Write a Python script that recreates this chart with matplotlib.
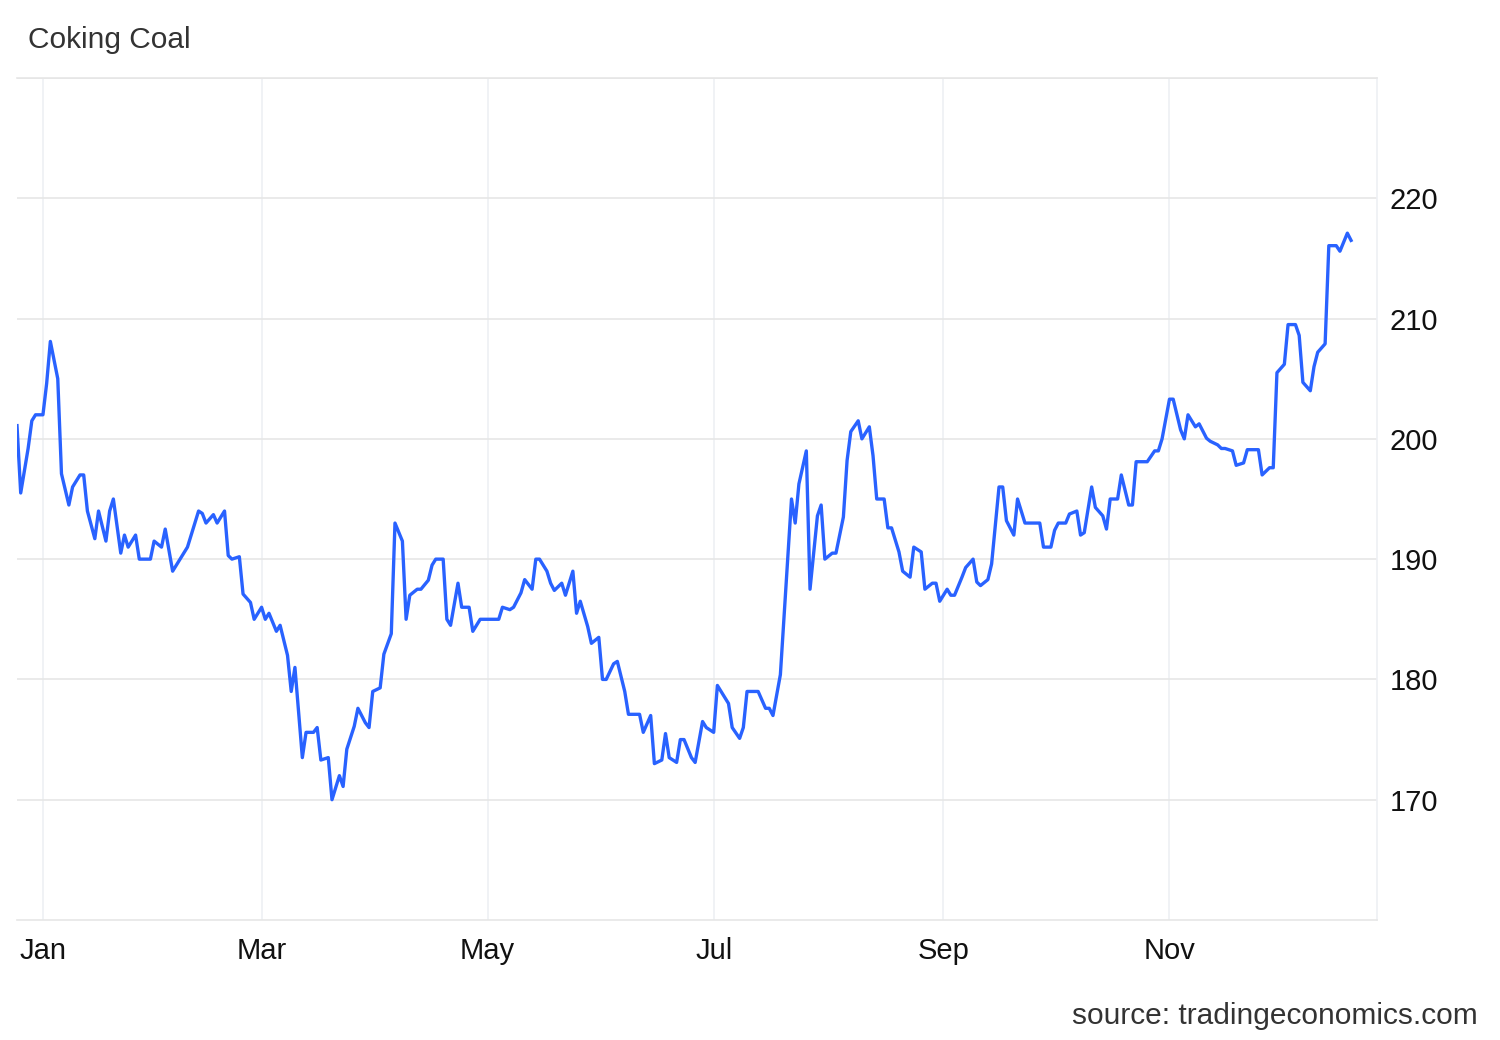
import numpy as np
import matplotlib
matplotlib.use("Agg")
import matplotlib.pyplot as plt

# days after 1 Jan 2025, price in USD/t
days = [-7, -6, -4, -3, -2, 0, 1, 2, 4, 5, 7, 8, 10, 11, 12, 14, 15, 17, 18, 19,
        21, 22, 23, 25, 26, 28, 29, 30, 32, 33, 35, 36, 37, 39, 40, 42, 43, 44, 46, 47,
        49, 50, 51, 53, 54, 56, 57, 59, 60, 61, 63, 64, 66, 67, 68, 70, 71, 73, 74, 75,
        77, 78, 80, 81, 82, 84, 85, 87, 88, 89, 91, 92, 94, 95, 97, 98, 99, 101, 102, 104,
        105, 106, 108, 109, 110, 112, 113, 115, 116, 118, 120, 123, 124, 126, 127, 129, 130, 132, 133, 134,
        136, 137, 138, 140, 141, 143, 144, 145, 147, 148, 150, 151, 152, 154, 155, 157, 158, 159, 161, 162,
        164, 165, 167, 168, 169, 171, 172, 173, 175, 176, 178, 179, 181, 182, 183, 185, 186, 188, 189, 190,
        192, 193, 195, 196, 197, 199, 202, 203, 204, 206, 207, 209, 210, 211, 213, 214, 216, 217, 218, 220,
        221, 223, 224, 225, 227, 228, 229, 231, 232, 234, 235, 237, 238, 240, 241, 242, 244, 245, 246, 248,
        249, 251, 252, 253, 255, 256, 258, 259, 260, 262, 263, 265, 266, 267, 269, 270, 272, 273, 274, 276,
        277, 279, 280, 281, 283, 284, 286, 287, 288, 290, 291, 293, 294, 295, 297, 298, 300, 301, 302, 304,
        305, 307, 308, 309, 311, 312, 314, 315, 317, 318, 319, 321, 322, 324, 325, 326, 328, 329, 331, 332,
        333, 335, 336, 338, 339, 340, 342, 343, 344, 346, 347, 349, 350, 352, 353]
price = [201.1, 195.5, 199.2, 201.5, 202.0, 202.0, 204.6, 208.1, 205.0, 197.1, 194.5, 196.0, 197.0, 197.0, 194.0, 191.7, 194.0, 191.5, 194.0, 195.0,
         190.5, 192.0, 191.0, 192.0, 190.0, 190.0, 190.0, 191.5, 191.0, 192.5, 189.0, 189.5, 190.0, 191.0, 192.0, 194.0, 193.8, 193.0, 193.7, 193.0,
         194.0, 190.3, 190.0, 190.2, 187.1, 186.4, 185.0, 186.0, 185.0, 185.5, 184.0, 184.5, 182.0, 179.0, 181.0, 173.5, 175.6, 175.6, 176.0, 173.3,
         173.5, 170.0, 172.0, 171.1, 174.2, 176.1, 177.6, 176.4, 176.0, 179.0, 179.3, 182.1, 183.8, 193.0, 191.5, 185.0, 187.0, 187.5, 187.5, 188.25,
         189.5, 190.0, 190.0, 185.0, 184.5, 188.0, 186.0, 186.0, 184.0, 185.0, 185.0, 185.0, 186.0, 185.8, 186.0, 187.2, 188.3, 187.5, 190.0, 190.0,
         189.0, 188.0, 187.4, 188.0, 187.0, 189.0, 185.5, 186.5, 184.4, 183.0, 183.5, 180.0, 180.0, 181.3, 181.5, 179.0, 177.1, 177.1, 177.1, 175.6,
         177.0, 173.0, 173.3, 175.5, 173.5, 173.1, 175.0, 175.0, 173.5, 173.1, 176.5, 176.0, 175.6, 179.5, 179.0, 178.0, 176.0, 175.1, 176.0, 179.0,
         179.0, 179.0, 177.6, 177.6, 177.0, 180.4, 195.0, 193.0, 196.25, 199.0, 187.5, 193.6, 194.5, 190.0, 190.5, 190.5, 193.5, 198.2, 200.6, 201.5,
         200.0, 201.0, 198.6, 195.0, 195.0, 192.6, 192.6, 190.6, 189.0, 188.5, 191.0, 190.6, 187.5, 188.0, 188.0, 186.5, 187.5, 187.0, 187.0, 188.5,
         189.3, 190.0, 188.1, 187.8, 188.3, 189.6, 196.0, 196.0, 193.2, 192.0, 195.0, 193.0, 193.0, 193.0, 193.0, 191.0, 191.0, 192.4, 193.0, 193.0,
         193.75, 194.0, 192.0, 192.2, 196.0, 194.3, 193.6, 192.5, 195.0, 195.0, 197.0, 194.5, 194.5, 198.1, 198.1, 198.1, 199.0, 199.0, 200.0, 203.3,
         203.3, 200.75, 200.0, 202.0, 201.0, 201.25, 200.05, 199.8, 199.5, 199.2, 199.2, 199.0, 197.8, 198.0, 199.1, 199.1, 199.1, 197.0, 197.6, 197.6,
         205.5, 206.2, 209.5, 209.5, 208.6, 204.7, 204.0, 206.0, 207.2, 207.9, 216.06, 216.06, 215.6, 217.1, 216.5]

y_ticks = [170, 180, 190, 200, 210, 220]
x_tick_dates = ["2025-01-01", "2025-03-01", "2025-05-01", "2025-07-01", "2025-09-01", "2025-11-01"]
x_tick_labels = ["Jan", "Mar", "May", "Jul", "Sep", "Nov"]

plt.rcParams["font.family"] = ["Liberation Sans", "DejaVu Sans"]

dates = np.datetime64("2025-01-01") + np.array(days).astype("timedelta64[D]")

fig = plt.figure(figsize=(15, 10.4), dpi=100)
ax = fig.add_axes([17 / 1500, 1 - 920 / 1040, (1377 - 17) / 1500, (920 - 78) / 1040])

ax.plot(dates, price, color="#2962ff", linewidth=2.4, solid_joinstyle="round")

ax.set_xlim(np.datetime64("2024-12-25"), np.datetime64("2025-12-27"))
ax.set_ylim(160, 230)

ax.set_yticks(y_ticks + [230])
ax.set_yticklabels([str(v) for v in y_ticks] + [""])
ax.yaxis.tick_right()
ax.set_xticks([np.datetime64(d) for d in x_tick_dates])
ax.set_xticklabels(x_tick_labels)

ax.tick_params(axis="y", length=0, pad=9, labelsize=21, labelcolor="#111111")
ax.tick_params(axis="x", length=0, pad=12, labelsize=21, labelcolor="#111111")

ax.grid(axis="y", color="#e6e6e6", linewidth=1.2)
ax.grid(axis="x", color="#eef0f4", linewidth=1.2)

ax.spines["left"].set_visible(False)
for side in ["top", "bottom", "right"]:
    ax.spines[side].set_color("#e6e6e6")
    ax.spines[side].set_linewidth(1.2)
ax.spines["right"].set_color("#eef0f4")

fig.text(28 / 1500, 1 - 40 / 1040, "Coking Coal", fontsize=21.5, color="#333333", va="center", ha="left")
fig.text(1478 / 1500, 1 - 1016 / 1040, "source: tradingeconomics.com", fontsize=21.5, color="#333333",
         va="center", ha="right")

fig.savefig("out.png", dpi=100)
